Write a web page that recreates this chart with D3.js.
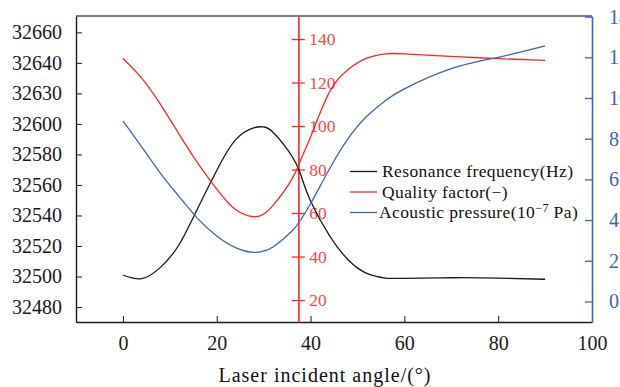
<!DOCTYPE html>
<html>
<head>
<meta charset="utf-8">
<script src="https://cdn.jsdelivr.net/npm/d3@7"></script>
<style>
body { margin: 0; background: #fff; }
text { font-family: "Liberation Serif", "Times New Roman", serif; }
</style>
</head>
<body>
<svg class="chart"></svg>
<script>
// laser incident angle (deg)
var angles = [0, 4, 8, 12, 16, 20, 24, 28, 30, 32, 36, 38, 40, 44, 48, 52, 56, 60, 70, 80, 90];
// resonance frequency (Hz), left axis
var freq = [32501, 32498.6, 32506, 32521, 32545, 32569.5, 32589.5, 32597.5, 32598, 32594.5, 32579, 32566, 32549.5, 32527, 32511, 32502, 32499, 32498.8, 32499.2, 32499, 32498.2];
// quality factor, middle red axis
var quality = [131.2, 122, 110, 96.2, 82.8, 71, 61.6, 58.3, 59.5, 63.5, 75.5, 85, 95, 115.5, 126, 131.2, 133.2, 133.2, 132, 131, 130.2];
// acoustic pressure (1e-7 Pa), right blue axis
var pressure = [8.88, 7.6, 6.3, 5.15, 4.06, 3.22, 2.65, 2.41, 2.48, 2.68, 3.45, 4.05, 4.8, 6.5, 8.0, 9.1, 9.88, 10.45, 11.44, 12.0, 12.56];

var xTicks = [0, 20, 40, 60, 80, 100];
var freqTicks = [32480, 32500, 32520, 32540, 32560, 32580, 32600, 32620, 32640, 32660];
var freqLabels = ["32480", "32500", "32520", "32540", "32560", "32580", "32600", "32630", "32640", "32660"];
var qTicks = [20, 40, 60, 80, 100, 120, 140];
var pTicks = [0, 2, 4, 6, 8, 10, 12, 14];
var legendNames = ["Resonance frequency(Hz)", "Quality factor(\u2212)", "Acoustic pressure(10"];

var svgWidth = 620, svgHeight = 387;
var mLeft = 76, mRight = 592, mTop = 16, mBottom = 322;
var redAxisAt = 37.4;

var black = "#1a1a1a", red = "#ff2424", blue = "#3a66b6";

var svg = d3.select(".chart")
	.attr("width", svgWidth)
	.attr("height", svgHeight);

var x = d3.scaleLinear().domain([-10, 100]).range([mLeft, mRight]);
var yF = d3.scaleLinear().domain([32470.2, 32670.7]).range([mBottom, mTop]);
var yQ = d3.scaleLinear().domain([9.9, 150.6]).range([mBottom, mTop]);
var yP = d3.scaleLinear().domain([-1.01, 14.03]).range([mBottom, mTop]);

function minors(ticks, step) {
	var out = [];
	for (var i = 0; i < ticks.length; i++) out.push(ticks[i] + step);
	return out;
}

// top frame
svg.append("line")
	.attr("x1", mLeft).attr("x2", mRight)
	.attr("y1", mTop).attr("y2", mTop)
	.attr("stroke", "#555").attr("stroke-width", 1.5);

// bottom axis
var gx = svg.append("g").attr("transform", "translate(0," + mBottom + ")");
gx.call(d3.axisBottom(x).tickValues(minors(xTicks, -10).concat([90])).tickSize(-3.5).tickFormat(""));
gx.call(d3.axisBottom(x).tickValues(xTicks).tickSizeInner(-6).tickSizeOuter(0).tickPadding(14));
gx.selectAll("text").attr("font-size", 20).attr("fill", black).attr("font-family", "Liberation Serif");
gx.selectAll(".domain").attr("stroke", black).attr("stroke-width", 1.4);
gx.selectAll(".tick line").attr("stroke", black);

// left axis
var gl = svg.append("g").attr("transform", "translate(" + mLeft + ",0)");
gl.call(d3.axisLeft(yF).tickValues(minors(freqTicks, 10)).tickSize(-4).tickFormat(""));
gl.call(d3.axisLeft(yF).tickValues(freqTicks).tickSizeInner(-6).tickSizeOuter(0).tickPadding(14)
	.tickFormat(function(d, i) { return freqLabels[i]; }));
gl.selectAll("text").attr("font-size", 20).attr("fill", black).attr("font-family", "Liberation Serif");
gl.selectAll(".domain").attr("stroke", black).attr("stroke-width", 1.4);
gl.selectAll(".tick line").attr("stroke", black);

// right blue axis
var gr = svg.append("g").attr("transform", "translate(" + mRight + ",0)");
gr.call(d3.axisRight(yP).tickValues(minors(pTicks.slice(0, 7), 1).concat([-1])).tickSize(-5).tickFormat(""));
gr.call(d3.axisRight(yP).tickValues(pTicks).tickSizeInner(-7).tickSizeOuter(0).tickPadding(17));
gr.selectAll("text").attr("font-size", 20).attr("fill", blue).attr("font-family", "Liberation Serif");
gr.selectAll(".domain").attr("stroke", blue).attr("stroke-width", 1.6);
gr.selectAll(".tick line").attr("stroke", blue).attr("stroke-width", 1.3);

// middle red axis, ticks crossing the line
var xr = x(redAxisAt);
var gm = svg.append("g").attr("transform", "translate(" + xr + ",0)");
gm.call(d3.axisRight(yQ).tickValues(minors(qTicks, 10).slice(0, 6).concat([10])).tickSize(0).tickFormat(""));
gm.call(d3.axisRight(yQ).tickValues(qTicks).tickSize(0).tickPadding(11));
gm.selectAll(".tick line").remove();
gm.selectAll(".tick").each(function(d) {
	var major = qTicks.indexOf(d) >= 0;
	var h = major ? 6.5 : 3.7;
	d3.select(this).append("line")
		.attr("x1", -h).attr("x2", h)
		.attr("stroke", red).attr("stroke-width", 1.3);
});
gm.selectAll("text").attr("font-size", 17.5).attr("fill", "#f4474a").attr("font-family", "Liberation Serif");
gm.selectAll(".domain").attr("stroke", red).attr("stroke-width", 1.6);

// curves
var curveData = [
	{ values: freq, y: yF, color: black },
	{ values: quality, y: yQ, color: red },
	{ values: pressure, y: yP, color: blue }
];
curveData.forEach(function(c) {
	var line = d3.line()
		.x(function(d, i) { return x(angles[i]); })
		.y(function(d) { return c.y(d); })
		.curve(d3.curveNatural);
	svg.append("path")
		.datum(c.values)
		.attr("fill", "none")
		.attr("stroke", c.color)
		.attr("stroke-width", 1.3)
		.attr("d", line);
});

// legend
var legend = svg.append("g").attr("transform", "translate(350,171.5)");
var colors = [black, red, blue];
legendNames.forEach(function(name, i) {
	var row = legend.append("g").attr("transform", "translate(0," + (i * 20.5) + ")");
	row.append("line")
		.attr("x1", 0).attr("x2", 27)
		.attr("stroke", colors[i]).attr("stroke-width", 1.3);
	var t = row.append("text")
		.attr("x", i == 2 ? 29 : 32)
		.attr("dy", "0.32em")
		.attr("font-size", 17.5)
		.attr("letter-spacing", 0.4)
		.attr("fill", "#111")
		.text(name);
	if (i == 2) {
		t.append("tspan").attr("dy", -6).attr("font-size", 12).text("\u22127");
		t.append("tspan").attr("dy", 6).text(" Pa)");
	}
});

// x title
svg.append("text")
	.attr("x", (mLeft + mRight) / 2 - 9)
	.attr("y", 382)
	.attr("text-anchor", "middle")
	.attr("font-size", 20)
	.attr("letter-spacing", 1)
	.attr("fill", "#111")
	.text("Laser incident angle/(\u00b0)");
</script>
</body>
</html>
